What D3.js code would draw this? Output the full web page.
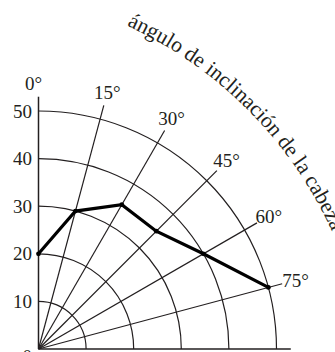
<!DOCTYPE html>
<html>
<head>
<meta charset="utf-8">
<script src="https://cdn.jsdelivr.net/npm/d3@7"></script>
<style>
html,body{margin:0;padding:0;background:#fff;overflow:hidden;}
svg{display:block;}
text{font-family:"Liberation Serif","Times New Roman",serif;fill:#231f20;}
</style>
</head>
<body>
<svg id="chart" width="335" height="352"></svg>
<script>
// ---- data ----
const angles = [0, 15, 30, 45, 60, 75];          // head inclination angle (degrees)
const values = [20, 30, 35, 35, 40, 50];         // radial value at each angle
const radialTicks = [0, 10, 20, 30, 40, 50];
const angleLabels = ["0°", "15°", "30°", "45°", "60°", "75°"];
const title = "ángulo de inclinación de la cabeza";

// ---- layout ----
const ox = 38.5, oy = 349;
const rMaxUnits = 53;
const svg = d3.select("#chart");
const g = svg.append("g").attr("transform", `translate(${ox},${oy})`);
const r = d3.scaleLinear().domain([0, 50]).range([0, 238]);
const toRad = d => d * Math.PI / 180;
const ink = "#231f20";

// arcs
g.selectAll("path.grid").data(radialTicks.filter(v => v > 0)).join("path")
  .attr("class", "grid")
  .attr("d", v => { const p = d3.path(); p.arc(0, 0, r(v), -Math.PI / 2, 0); return p.toString(); })
  .attr("fill", "none").attr("stroke", ink).attr("stroke-width", 1.2);

// radial spokes (including axes)
const spokes = angles.concat([90]);
g.selectAll("line.spoke").data(spokes).join("line")
  .attr("class", "spoke")
  .attr("x1", 0).attr("y1", 0)
  .attr("x2", a => r(rMaxUnits) * Math.sin(toRad(a)))
  .attr("y2", a => -r(rMaxUnits) * Math.cos(toRad(a)))
  .attr("stroke", ink)
  .attr("stroke-width", a => (a === 0 || a === 90) ? 1.5 : 1.2);

// radial tick labels
g.selectAll("text.rtick").data(radialTicks).join("text")
  .attr("class", "rtick")
  .attr("x", -6.5)
  .attr("y", v => -r(v) + (v === 0 ? 7 : 0))
  .attr("text-anchor", "end")
  .attr("dominant-baseline", "central")
  .attr("font-size", 19)
  .text(v => v);

// angle labels
const labR = 266;
g.selectAll("text.alab").data(angles).join("text")
  .attr("class", "alab")
  .attr("x", a => labR * Math.sin(toRad(a)) + (a === 0 ? -5 : 0))
  .attr("y", a => -labR * Math.cos(toRad(a)))
  .attr("text-anchor", "middle")
  .attr("dominant-baseline", "central")
  .attr("font-size", 19)
  .text((a, i) => angleLabels[i]);

// data line
const pts = angles.map((a, i) => [toRad(a), r(values[i])]);
const line = d3.lineRadial().angle(d => d[0]).radius(d => d[1]);
g.append("path").attr("d", line(pts))
  .attr("fill", "none").attr("stroke", "#000").attr("stroke-width", 3.2)
  .attr("stroke-linejoin", "miter");
g.selectAll("circle.pt").data(pts).join("circle")
  .attr("class", "pt")
  .attr("cx", d => d[1] * Math.sin(d[0]))
  .attr("cy", d => -d[1] * Math.cos(d[0]))
  .attr("r", 2.4).attr("fill", "#000");

// curved title
const cx = -46, cy = 403, R = 415;
const a0 = toRad(24.6), a1 = toRad(80);
const defs = svg.append("defs");
defs.append("path").attr("id", "titlePath")
  .attr("d", `M${cx + R * Math.sin(a0)},${cy - R * Math.cos(a0)} A${R},${R} 0 0 1 ${cx + R * Math.sin(a1)},${cy - R * Math.cos(a1)}`);
svg.append("text").attr("font-size", 21.6)
  .append("textPath").attr("href", "#titlePath")
  .text(title);
</script>
</body>
</html>
